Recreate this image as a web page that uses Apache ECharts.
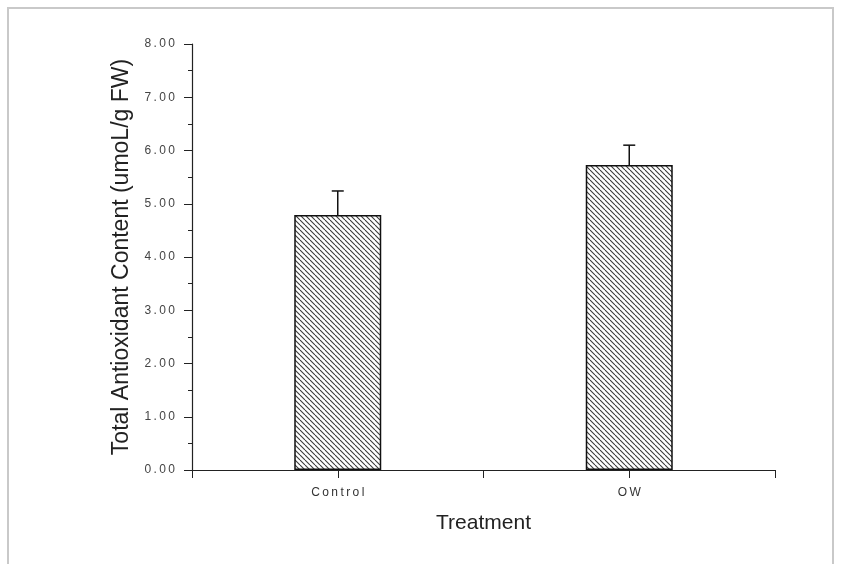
<!DOCTYPE html>
<html>
<head>
<meta charset="utf-8">
<script src="https://cdn.jsdelivr.net/npm/echarts@6/dist/echarts.min.js"></script>
<style>
    html, body { margin: 0; padding: 0; background: #fff; }
    #chart { width: 841px; height: 564px; }
</style>
</head>
<body>
<div id="chart"></div>
<script>
// data
const categories = ['Control', 'OW'];
const means = [4.79, 5.73];
const errors = [0.45, 0.37];
const yTicks = [0, 1, 2, 3, 4, 5, 6, 7, 8];

// categories sit at x = 1, 3 on a 0..4 axis so the middle tick shows
const catPos = categories.map((c, i) => i * 2 + 1);

// spread letters a little, like the scanned figure
function spaced(s) {
    return String(s).split('').join('\u2009');
}

function hatch() {
    let s = 5;
    let c = document.createElement('canvas');
    c.width = s;
    c.height = s;
    let ctx = c.getContext('2d');
    ctx.fillStyle = '#fff';
    ctx.fillRect(0, 0, s, s);
    ctx.strokeStyle = '#3a3a3a';
    ctx.lineWidth = 1.1;
    for (let k = -1; k <= 1; k++) {
        ctx.beginPath();
        ctx.moveTo(k * s, 0);
        ctx.lineTo(k * s + s, s);
        ctx.stroke();
    }
    return c;
}

let chart = echarts.init(document.getElementById('chart'));

let option = {
    animation: false,
    backgroundColor: '#fff',
    graphic: [
        {
            type: 'rect',
            shape: { x: 8, y: 8, width: 825, height: 570 },
            style: { fill: 'none', stroke: '#c9c9c9', lineWidth: 2 },
            silent: true
        }
    ],
    grid: {
        left: 192,
        right: 66,
        top: 44,
        bottom: 94
    },
    xAxis: {
        type: 'value',
        min: 0,
        max: 4,
        interval: 1,
        name: 'Treatment',
        nameLocation: 'middle',
        nameGap: 43,
        nameTextStyle: { fontFamily: 'Liberation Sans', fontSize: 21, color: '#222' },
        splitLine: { show: false },
        axisLine: { lineStyle: { color: '#222', width: 1.2 } },
        axisTick: { show: true, length: 8, lineStyle: { color: '#222' } },
        axisLabel: {
            margin: 17,
            fontFamily: 'Liberation Sans',
            fontSize: 12,
            color: '#333',
            formatter: function (v) {
                let i = catPos.indexOf(v);
                return i >= 0 ? spaced(categories[i]) : '';
            }
        }
    },
    yAxis: {
        type: 'value',
        min: yTicks[0],
        max: yTicks[yTicks.length - 1],
        interval: 1,
        name: 'Total Antioxidant Content (umoL/g FW)',
        nameLocation: 'middle',
        nameGap: 58,
        nameTextStyle: { fontFamily: 'Liberation Sans', fontSize: 23, color: '#222' },
        splitLine: { show: false },
        axisLine: { show: true, lineStyle: { color: '#222', width: 1.2 } },
        axisTick: { show: true, length: 8, lineStyle: { color: '#222' } },
        minorTick: { show: true, splitNumber: 2, length: 4, lineStyle: { color: '#222' } },
        axisLabel: {
            margin: 17,
            fontFamily: 'Liberation Sans',
            fontSize: 12,
            color: '#444',
            formatter: v => spaced(v.toFixed(2))
        }
    },
    series: [
        {
            type: 'bar',
            barWidth: 87,
            data: catPos.map((x, i) => [x, means[i]]),
            itemStyle: {
                color: { image: hatch(), repeat: 'repeat' },
                borderColor: '#111',
                borderWidth: 1.5
            },
            z: 2
        },
        {
            type: 'custom',
            data: catPos.map((x, i) => [x, means[i], means[i] + errors[i]]),
            renderItem: function (params, api) {
                let base = api.coord([api.value(0), api.value(1)]);
                let top = api.coord([api.value(0), api.value(2)]);
                let st = { stroke: '#111', lineWidth: 1.5 };
                return {
                    type: 'group',
                    children: [
                        { type: 'line', shape: { x1: base[0], y1: base[1], x2: top[0], y2: top[1] }, style: st },
                        { type: 'line', shape: { x1: top[0] - 6, y1: top[1], x2: top[0] + 6, y2: top[1] }, style: st }
                    ]
                };
            },
            z: 3
        }
    ]
};

chart.setOption(option);
</script>
</body>
</html>
